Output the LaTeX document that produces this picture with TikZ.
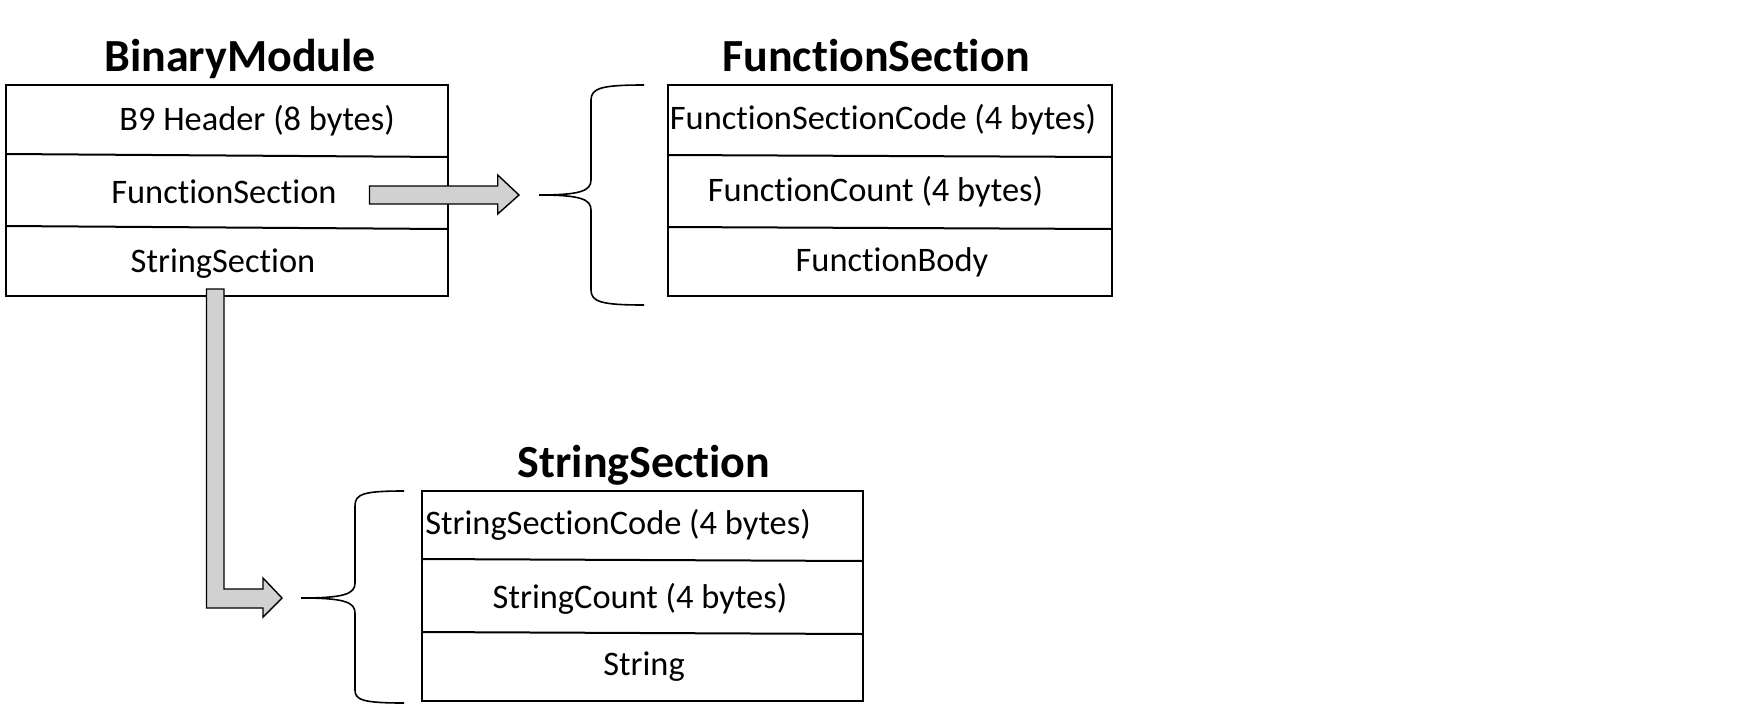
\documentclass[tikz,border=0pt]{standalone}
\usepackage{fontspec}
\setmainfont[Ligatures=NoCommon]{Carlito}
\begin{document}
\begin{tikzpicture}[x=0.5pt,y=-0.5pt,
  cell/.style={draw=black,line width=1pt,inner sep=0pt},
  lbl/.style={inner sep=0pt,anchor=base,font=\fontsize{17.2}{20}\selectfont},
  ttl/.style={inner sep=0pt,anchor=base,font=\fontsize{23}{27}\selectfont\bfseries},
  blockarrow/.style={draw=black,line width=0.7pt,fill=black!18,line join=miter},
  brace/.style={draw=black,line width=0.8pt}]
\useasboundingbox (0,0) rectangle (1750,718);
% ---- BinaryModule
\node[ttl] (t1) at (240,71) {BinaryModule};
\draw[line width=1pt] (5.6,85) rectangle (447.5,296);
\coordinate (b1l1) at (5.6,154); \coordinate (b1r1) at (447.5,157);
\coordinate (b1l2) at (5.6,226); \coordinate (b1r2) at (447.5,229);
\draw[line width=1pt] (b1l1) -- (b1r1) (b1l2) -- (b1r2);
\node[lbl] (h1) at (257,130) {B9 Header (8 bytes)};
\node[lbl] (h2) at (224,203) {FunctionSection};
\node[lbl] (h3) at (223,272) {StringSection};
% ---- FunctionSection
\node[ttl] (t2) at (876,71) {FunctionSection};
\draw[line width=1pt] (667.5,85) rectangle (1111.5,296);
\coordinate (b2l1) at (667.5,155); \coordinate (b2r1) at (1111.5,157);
\coordinate (b2l2) at (667.5,227); \coordinate (b2r2) at (1111.5,229);
\draw[line width=1pt] (b2l1) -- (b2r1) (b2l2) -- (b2r2);
\node[lbl] (f1) at (883,129) {FunctionSectionCode (4 bytes)};
\node[lbl] (f2) at (875.5,201) {FunctionCount (4 bytes)};
\node[lbl] (f3) at (892,271) {FunctionBody};
% ---- StringSection
\node[ttl] (t3) at (644,477) {StringSection};
\draw[line width=1pt] (422,491) rectangle (863,701);
\coordinate (b3l1) at (422,559); \coordinate (b3r1) at (863,561);
\coordinate (b3l2) at (422,632); \coordinate (b3r2) at (863,634);
\draw[line width=1pt] (b3l1) -- (b3r1) (b3l2) -- (b3r2);
\node[lbl] (s1) at (618,534) {StringSectionCode (4 bytes)};
\node[lbl] (s2) at (640,608) {StringCount (4 bytes)};
\node[lbl] (s3) at (644,675) {String};
% ---- braces
\coordinate (br1) at (539,195);
\draw[brace] (644,85) .. controls (602,85) and (591,88) .. (591,100) -- (591,180)
  .. controls (591,191) and (580,195) .. (br1)
  .. controls (580,195) and (591,199) .. (591,210) -- (591,290)
  .. controls (591,302) and (602,305) .. (644,305);
\coordinate (br2) at (301,598);
\draw[brace] (404,491) .. controls (363,491) and (355,494) .. (355,506) -- (355,583)
  .. controls (355,594) and (344,598) .. (br2)
  .. controls (344,598) and (355,602) .. (355,613) -- (355,690)
  .. controls (355,700) and (363,703) .. (404,703);
% ---- block arrows
\draw[blockarrow] (369.5,186) -- (497.7,186) -- (497.7,175) -- (519,195)
  -- (497.7,214) -- (497.7,204) -- (369.5,204) -- cycle;
\draw[blockarrow] (206.5,289) -- (224,289) -- (224,589) -- (263,589) -- (263,578)
  -- (282,598) -- (263,617) -- (263,608) -- (206.5,608) -- cycle;
\end{tikzpicture}
\end{document}
